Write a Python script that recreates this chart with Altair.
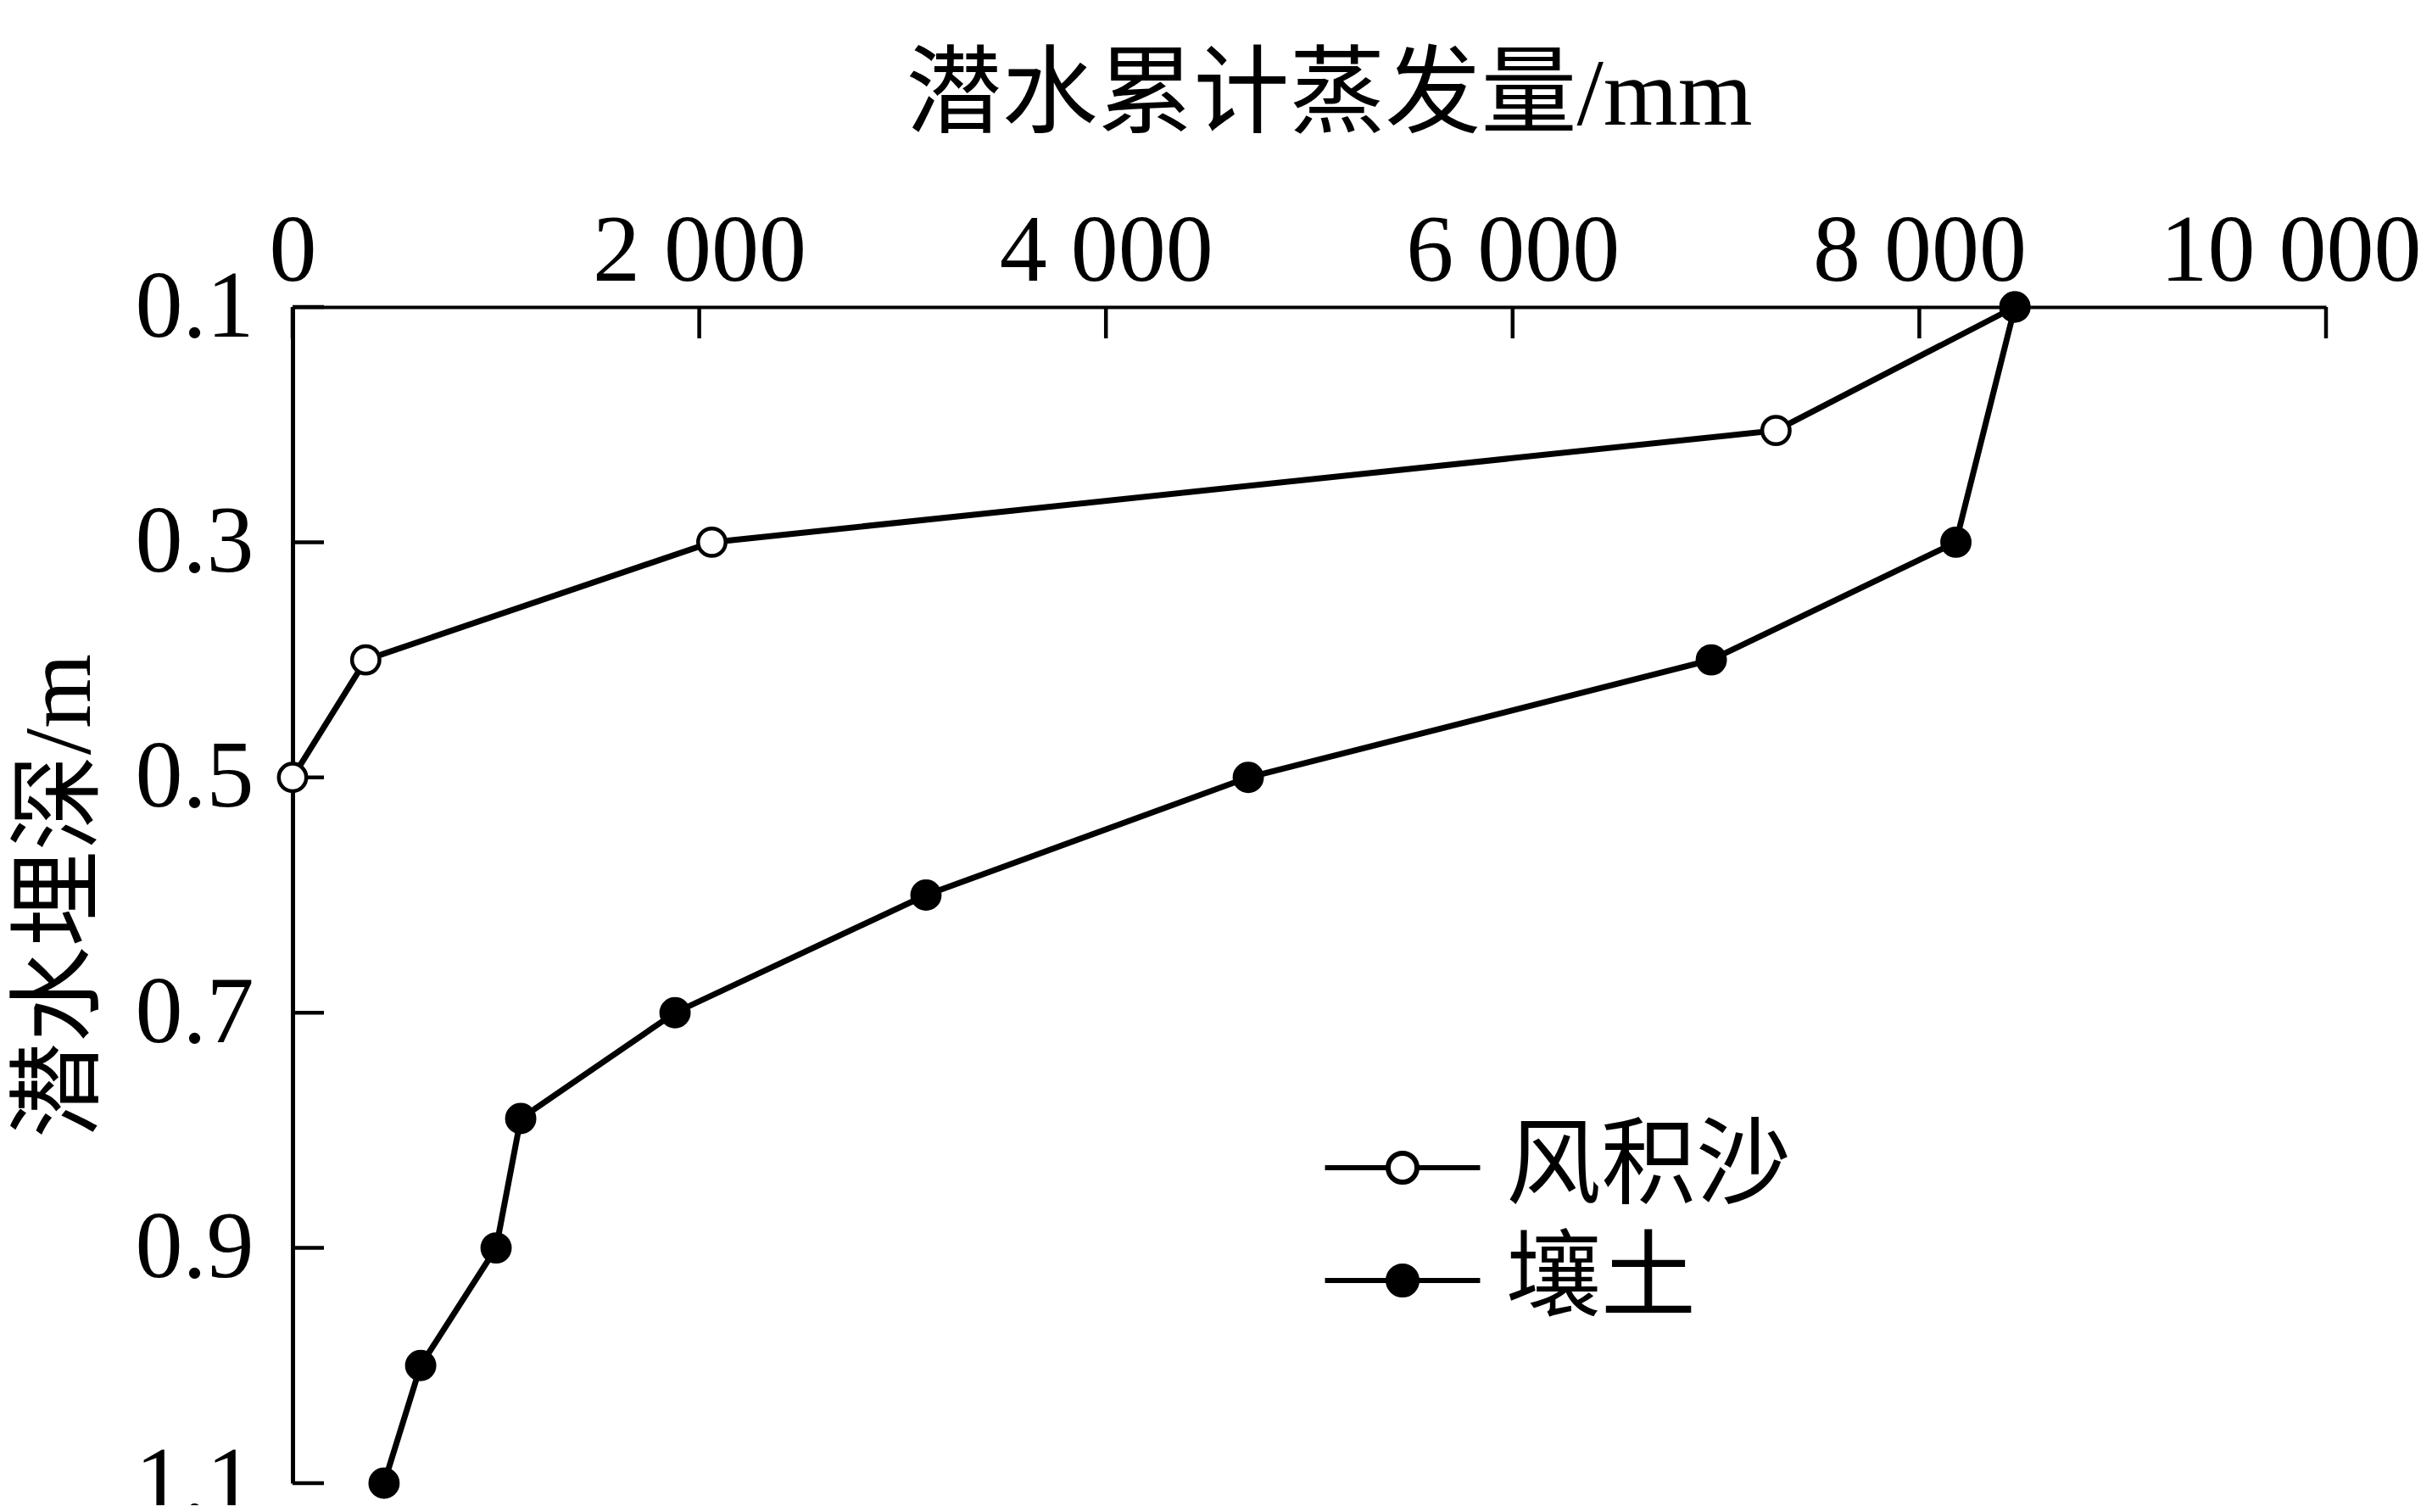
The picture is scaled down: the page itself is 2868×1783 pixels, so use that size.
import altair as alt
import pandas as pd

# ---- data ----
series = ["风积沙", "壤土"]
depth_sand = [0.1, 0.205, 0.3, 0.4, 0.5]
evap_sand = [8470, 7295, 2062, 360, 0]
depth_loam = [0.1, 0.3, 0.4, 0.5, 0.6, 0.7, 0.79, 0.9, 1.0, 1.1]
evap_loam = [8470, 8180, 6977, 4700, 3115, 1881, 1122, 1001, 630, 450]
x_ticks = [0, 2000, 4000, 6000, 8000, 10000]
y_ticks = [0.1, 0.3, 0.5, 0.7, 0.9, 1.1]

df = pd.DataFrame({
    "soil": [series[0]] * len(depth_sand) + [series[1]] * len(depth_loam),
    "depth": depth_sand + depth_loam,
    "evap": evap_sand + evap_loam,
})
df["ord"] = range(len(df))

xt = pd.DataFrame({"evap": x_ticks})
yt = pd.DataFrame({"depth": y_ticks})

NUM = "Liberation Serif"
CJK = "Liberation Serif, Noto Sans CJK SC"

x_scale = alt.Scale(domain=[0, 10000], nice=False, zero=True)
y_scale = alt.Scale(domain=[0.1, 1.1], reverse=True, nice=False, zero=False)

x_axis = alt.Axis(
    orient="top", values=x_ticks, grid=False, ticks=False, tickSize=0,
    domainColor="black", domainWidth=4,
    labelExpr="datum.value >= 1000 ? floor(datum.value/1000) + ' ' + format(datum.value % 1000, '03d') : '' + datum.value",
    labelFont=NUM, labelFontSize=112, labelColor="black", labelPadding=32,
    labelBaseline="alphabetic", labelFlush=False, labelOverlap=False, labelLimit=1000,
    labelOffset={"condition": {"test": "datum.value == 10000", "value": -42}, "value": 0},
    title="潜水累计蒸发量/mm", titleFont=CJK, titleFontSize=113, titleFontWeight="normal",
    titleColor="black", titleX=1222, titleY=-216, titleAlign="center", titleBaseline="alphabetic",
    titleLimit=3000,
)
y_axis = alt.Axis(
    values=y_ticks, format=".1f", grid=False, ticks=False, tickSize=0,
    domainColor="black", domainWidth=5,
    labelFont=NUM, labelFontSize=112, labelColor="black", labelPadding=46,
    labelFlush=False, labelOverlap=False, labelLimit=1000,
    title="潜水埋深/m", titleFont=CJK, titleFontSize=113, titleFontWeight="normal",
    titleColor="black", titleX=-240, titleY=694, titleAngle=270, titleAlign="center",
    titleBaseline="alphabetic", titleLimit=3000,
)

legend_path = ("M-2.69,0L-0.5,0M0.5,0L2.69,0"
               "M0.5,0C0.5,0.276 0.276,0.5 0,0.5C-0.276,0.5 -0.5,0.276 -0.5,0"
               "C-0.5,-0.276 -0.276,-0.5 0,-0.5C0.276,-0.5 0.5,-0.276 0.5,0Z")

lines = alt.Chart(df).mark_line(color="black", strokeWidth=7).encode(
    x=alt.X("evap:Q", scale=x_scale, axis=x_axis),
    y=alt.Y("depth:Q", scale=y_scale, axis=y_axis),
    detail="soil:N",
    order="ord:Q",
)

points = alt.Chart(df).mark_point(
    shape="circle", filled=True, stroke="black", strokeWidth=4.5, size=1050, opacity=1
).encode(
    x=alt.X("evap:Q"),
    y=alt.Y("depth:Q"),
    fill=alt.Fill(
        "soil:N",
        scale=alt.Scale(domain=series, range=["white", "black"]),
        legend=alt.Legend(
            title=None, orient="none", legendX=1253, legendY=959,
            symbolType=legend_path, symbolSize=4624,
            symbolStrokeColor="black", symbolStrokeWidth=6, symbolOpacity=1,
            labelFont=CJK, labelFontSize=112, labelColor="black", labelLimit=1000,
            labelOffset=66, rowPadding=21, padding=0,
        ),
    ),
    order="ord:Q",
)

xticks = alt.Chart(xt).mark_rule(color="black", strokeWidth=4.5).encode(
    x=alt.X("evap:Q"), y=alt.value(0), y2=alt.value(37)
)
yticks = alt.Chart(yt).mark_rule(color="black", strokeWidth=4.5).encode(
    y=alt.Y("depth:Q"), x=alt.value(0), x2=alt.value(37)
)

chart = alt.layer(xticks, yticks, lines, points).properties(
    width=2398, height=1387,
    autosize=alt.AutoSizeParams(type="none"),
    padding={"left": 337, "top": 354, "right": 117, "bottom": 26},
    background="white",
).configure_view(stroke=None)

chart.save("out.html", embed_options={"renderer": "svg", "actions": False})
